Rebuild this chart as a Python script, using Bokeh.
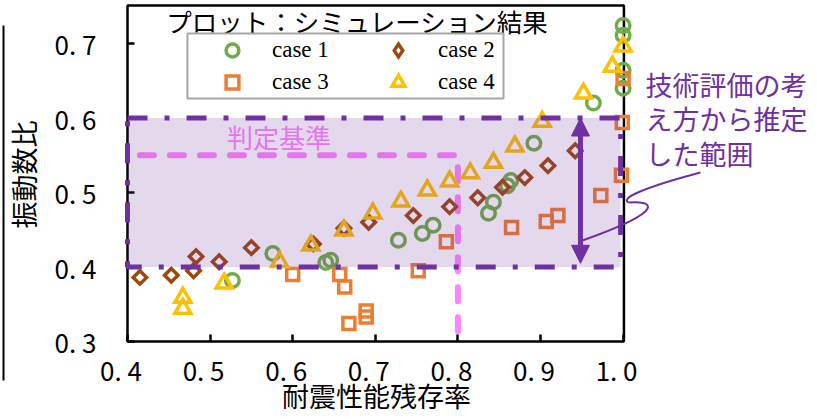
import numpy as np
from bokeh.plotting import figure
from bokeh.models import (Range1d, FixedTicker, CustomJSTickFormatter, LinearAxis,
                          BoxAnnotation, Label, Legend, LegendItem, Arrow, NormalHead)
from bokeh.embed import file_html
from bokeh.resources import INLINE

# ---------------- data ----------------
case1_x = [0.527, 0.576, 0.640, 0.646, 0.728, 0.757, 0.770, 0.837, 0.843, 0.860, 0.864, 0.892, 0.964, 1.0, 1.0, 1.0, 1.0]
case1_y = [0.382, 0.418, 0.406, 0.409, 0.436, 0.445, 0.456, 0.472, 0.487, 0.509, 0.516, 0.566, 0.620, 0.640, 0.664, 0.711, 0.724]

case2_x = [0.415, 0.453, 0.480, 0.483, 0.511, 0.550, 0.625, 0.662, 0.692, 0.746, 0.790, 0.824, 0.854, 0.881, 0.909, 0.942]
case2_y = [0.386, 0.389, 0.395, 0.414, 0.407, 0.426, 0.431, 0.452, 0.460, 0.469, 0.481, 0.493, 0.507, 0.520, 0.536, 0.556]

case3_x = [0.600, 0.657, 0.663, 0.668, 0.689, 0.689, 0.752, 0.786, 0.865, 0.907, 0.921, 0.973, 0.998, 0.999, 1.0]
case3_y = [0.390, 0.390, 0.373, 0.324, 0.341, 0.333, 0.395, 0.434, 0.453, 0.461, 0.469, 0.496, 0.523, 0.594, 0.653]

case4_x = [0.467, 0.467, 0.517, 0.584, 0.622, 0.662, 0.697, 0.731, 0.763, 0.790, 0.815, 0.843, 0.869, 0.902, 0.952, 0.987, 1.0]
case4_y = [0.359, 0.344, 0.378, 0.407, 0.429, 0.449, 0.472, 0.488, 0.503, 0.515, 0.526, 0.540, 0.562, 0.595, 0.633, 0.669, 0.696]

series_labels = ["case 1", "case 2", "case 3", "case 4"]
x_ticks = [0.4, 0.5, 0.6, 0.7, 0.8, 0.9, 1.0]
y_ticks = [0.3, 0.4, 0.5, 0.6, 0.7]

x_title = "耐震性能残存率"
y_title = "振動数比"
plot_title = "プロット：シミュレーション結果"
crit_label = "判定基準"
range_note = ["技術評価の考", "え方から推定", "した範囲"]

# axes box (data extent of the plotting area)
box_x0, box_x1 = 0.4, 1.001
box_y0, box_y1 = 0.3, 0.751

# judgement criterion and estimated range
crit_x = 0.8
crit_y = 0.55
crit_x_start = 0.415
band_low, band_high = 0.4, 0.6
band_left, band_right = 0.4, 0.997
arrow_x, arrow_y0, arrow_y1 = 0.9484, 0.405, 0.6
# leader line from the arrow to the note (two cubic segments)
lead_x0 = [0.9508, 1.0065]; lead_y0 = [0.4356, 0.4866]
lead_cx0 = [1.0598, 0.9969]; lead_cy0 = [0.4785, 0.4919]
lead_cx1 = [1.0332, 1.0211]; lead_cy1 = [0.4893, 0.5054]
lead_x1 = [1.0065, 1.0937]; lead_y1 = [0.4866, 0.5268]

# ---------------- styling ----------------
GREEN, BROWN, ORANGE, GOLD = "#70ad47", "#9e480e", "#ed7d31", "#ffc000"
PURPLE = "#7030a0"
PINK = "#ff85ff"
JP = "Noto Sans CJK JP"

W, H = 817, 419
PX_X, PX_Y = 826.0, 745.0          # pixels per data unit
X0_PX, Y0_PX = 127, 341            # canvas position of (0.4, 0.3)
x_range = Range1d(0.4 - X0_PX / PX_X, 0.4 + (W - X0_PX) / PX_X)
y_range = Range1d(0.3 - (H - Y0_PX) / PX_Y, 0.3 + Y0_PX / PX_Y)

p = figure(width=W, height=H, x_range=x_range, y_range=y_range,
           output_backend="svg", toolbar_location=None,
           x_axis_location=None, y_axis_location=None, min_border=0,
           outline_line_color=None, background_fill_color="white", border_fill_color="white")
p.grid.visible = False

xfmt = CustomJSTickFormatter(code="return tick.toFixed(1).replace('.', '. ') + '\\u2002';")
yfmt = CustomJSTickFormatter(code="return tick.toFixed(1).replace('.', '. ');")
xaxis = LinearAxis(fixed_location=box_y0, ticker=FixedTicker(ticks=x_ticks), formatter=xfmt,
                   major_label_standoff=9)
yaxis = LinearAxis(fixed_location=box_x0, ticker=FixedTicker(ticks=y_ticks), formatter=yfmt,
                   major_label_standoff=31)
for ax in (xaxis, yaxis):
    ax.major_tick_in = 7
    ax.major_tick_out = 0
    ax.minor_tick_line_color = None
    ax.major_tick_line_width = 2.5
    ax.major_tick_line_color = "black"
    ax.axis_line_color = None
    ax.major_label_text_font = JP
    ax.major_label_text_font_size = "26px"
    ax.major_label_text_color = "black"
p.add_layout(xaxis, "below")
p.add_layout(yaxis, "left")

# axes box
p.quad(left=[box_x0], right=[box_x1], bottom=[box_y0], top=[box_y1],
       fill_color=None, line_color="black", line_width=2.5)
# thin rule at the far left of the reference picture
p.segment(x0=[0.2499], y0=[0.2477], x1=[0.2499], y1=[0.7242], line_color="black", line_width=2)

# criterion line (dashed pink) -- drawn under the band
p.line([crit_x_start, crit_x, crit_x], [crit_y, crit_y, box_y0], line_color=PINK, line_width=6,
       line_dash="14 16", line_cap="round", line_join="round")

# leader line
p.bezier(x0=lead_x0, y0=lead_y0, x1=lead_x1, y1=lead_y1, cx0=lead_cx0, cy0=lead_cy0,
         cx1=lead_cx1, cy1=lead_cy1, line_color=PURPLE, line_width=2)

# series
r1 = p.scatter(case1_x, case1_y, marker="circle", size=13.5, fill_color=None,
               line_color=GREEN, line_width=3.5)
r2 = p.scatter(case2_x, case2_y, marker="square", angle=np.pi / 4, size=9.5, fill_color=None,
               line_color=BROWN, line_width=3.5, line_join="miter")
r3 = p.scatter(case3_x, case3_y, marker="square", size=12, fill_color=None,
               line_color=ORANGE, line_width=3.5, line_join="miter")
r4 = p.scatter(case4_x, case4_y, marker="triangle", size=16, fill_color=None,
               line_color=GOLD, line_width=3.5, line_join="miter")
# legend swatch for case 2 (legends draw markers unrotated): hidden diamond renderer
r2_key = p.scatter(case2_x, case2_y, marker="diamond", size=14, fill_color=None,
                   line_color=BROWN, line_width=3.5, line_join="miter", visible=False)

# criterion label (under the band overlay)
p.add_layout(Label(x=0.5834, y=0.5752, text=crit_label, text_font=JP, text_font_size="26px",
                   text_color=PINK, text_align="center", text_baseline="middle"))

# estimated range band (semi-transparent, over the points)
p.add_layout(BoxAnnotation(left=band_left, right=band_right, bottom=band_low, top=band_high,
                           fill_color=PURPLE, fill_alpha=0.19, line_color=PURPLE, line_alpha=1.0,
                           line_width=5, line_dash="20 17 5 17"))

# double arrow
p.add_layout(Arrow(x_start=arrow_x, y_start=arrow_y0, x_end=arrow_x, y_end=arrow_y1,
                   line_color=PURPLE, line_width=5,
                   start=NormalHead(size=18, fill_color=PURPLE, line_color=PURPLE, line_width=1),
                   end=NormalHead(size=18, fill_color=PURPLE, line_color=PURPLE, line_width=1)))

# note text
for txt, yy in zip(range_note, [0.6443, 0.5987, 0.5517]):
    p.add_layout(Label(x=1.0271, y=yy, text=txt, text_font=JP, text_font_size="27px",
                       text_color=PURPLE, text_align="left", text_baseline="middle"))

# title & axis titles
p.add_layout(Label(x=0.6785, y=0.7309, text=plot_title, text_font=JP, text_font_size="25.5px",
                   text_color="black", text_align="center", text_baseline="middle"))
p.add_layout(Label(x=0.7015, y=0.2275, text=x_title, text_font=JP, text_font_size="27px",
                   text_color="black", text_align="center", text_baseline="middle"))
p.add_layout(Label(x=0.2741, y=0.5242, text=y_title, text_font=JP, text_font_size="27px",
                   text_color="black", text_align="center", text_baseline="middle", angle=np.pi / 2))

# legend frame + two legend columns
p.add_layout(BoxAnnotation(left=0.4726, right=0.8552, bottom=0.6262, top=0.7134,
                           fill_color="white", fill_alpha=1.0, line_color="#a6a6a6",
                           line_alpha=1.0, line_width=2))
leg_style = dict(glyph_width=32, glyph_height=32, label_height=26, label_standoff=24, spacing=0,
                 padding=0, margin=0, border_line_color=None, background_fill_alpha=0,
                 inactive_fill_alpha=0.0,
                 label_text_font="Liberation Serif", label_text_font_size="23px",
                 label_text_color="black")
leg1 = Legend(items=[LegendItem(label=series_labels[0], renderers=[r1]),
                     LegendItem(label=series_labels[2], renderers=[r3])],
              location=(216, H - 98), **leg_style)
leg2 = Legend(items=[LegendItem(label=series_labels[1], renderers=[r2_key]),
                     LegendItem(label=series_labels[3], renderers=[r4])],
              location=(382, H - 98), **leg_style)
p.add_layout(leg1)
p.add_layout(leg2)

open("out.html", "w").write(file_html(p, INLINE))
